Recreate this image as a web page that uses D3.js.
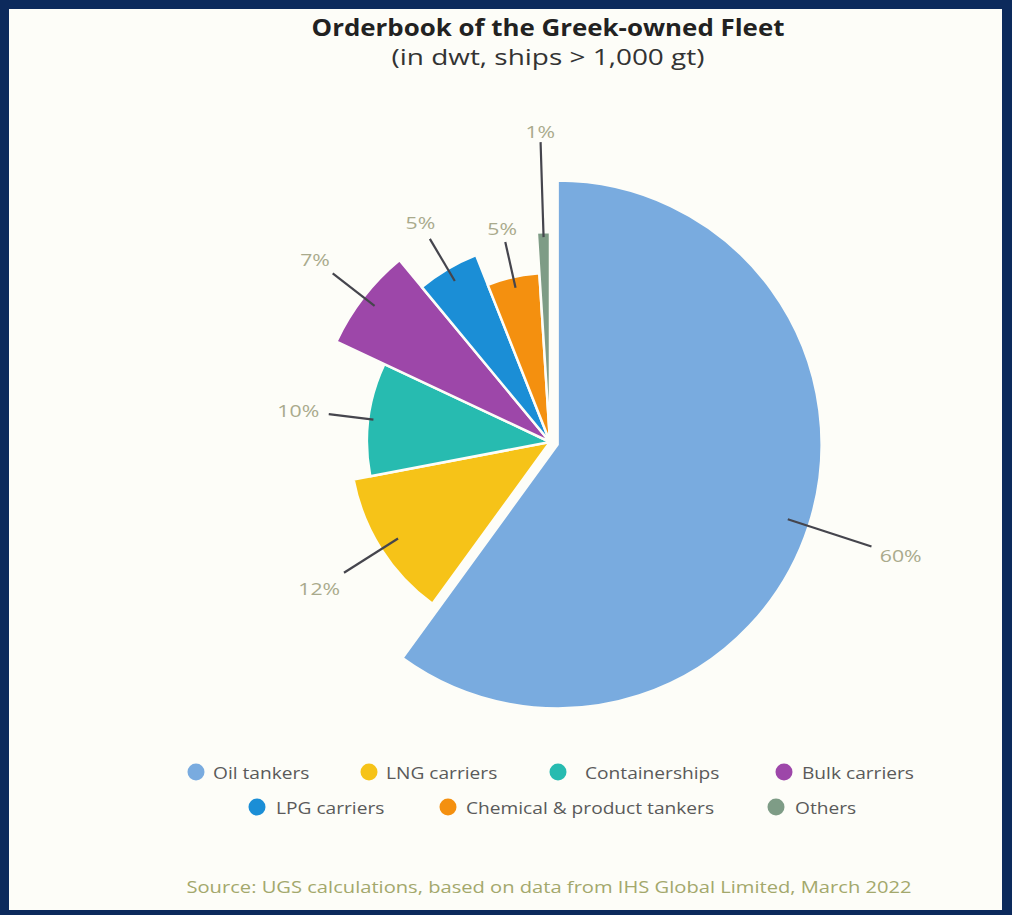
<!DOCTYPE html>
<html>
<head>
<meta charset="utf-8">
<script src="https://cdn.jsdelivr.net/npm/d3@7"></script>
<style>
  html, body { margin: 0; padding: 0; background: #0c2a5c; }
  svg { display: block; }
</style>
</head>
<body>
<svg id="chart" width="1012" height="915"></svg>
<script>
// ---- data ----
const categories = ["Oil tankers", "LNG carriers", "Containerships", "Bulk carriers",
                    "LPG carriers", "Chemical & product tankers", "Others"];
const shares = [60, 12, 10, 7, 5, 5, 1];
const titleText = "Orderbook of the Greek-owned Fleet";
const subtitleText = "(in dwt, ships > 1,000 gt)";
const sourceText = "Source: UGS calculations, based on data from IHS Global Limited, March 2022";
const legendRows = [
  ["Oil tankers", "LNG carriers", "Containerships", "Bulk carriers"],
  ["LPG carriers", "Chemical & product tankers", "Others"]
];

// ---- styling / layout ----
const W = 1012, H = 915;
const palette = ["#79abdf", "#f6c318", "#27bbb0", "#9d47a9", "#1b8ed6", "#f4900f", "#7e9c86"];
const sliceRadius = [264, 200, 183, 236, 201, 169, 210];   // each slice has its own depth
const sliceOffset = [8, 0, 0, 0, 0, 0, 0];                // oil tankers pulled out slightly
const leaderIn  = [242, 180, 178, 222, 187, 158, 205];
const leaderOut = [330, 244, 223, 275, 236, 205, 300];
const cx = 550, cy = 442;
const FONT = "'Open Sans', 'DejaVu Sans', sans-serif";

const svg = d3.select("#chart");

// widen a text element horizontally by a factor (the house typeface is a wide geometric sans)
function widen(sel, k) {
  sel.each(function() {
    const w = this.getComputedTextLength();
    d3.select(this).attr("textLength", w * k).attr("lengthAdjust", "spacingAndGlyphs");
  });
  return sel;
}

// framed panel
svg.append("rect").attr("x", 0).attr("y", 0).attr("width", W).attr("height", H).attr("fill", "#0c2a5c");
svg.append("rect").attr("x", 9).attr("y", 9).attr("width", 993).attr("height", 901).attr("fill", "#fdfdf8");

// titles
widen(svg.append("text").attr("x", 548).attr("y", 36).attr("text-anchor", "middle")
  .attr("font-family", FONT).attr("font-weight", 700).attr("font-size", 22.5)
  .attr("fill", "#222").text(titleText), 1.15);
widen(svg.append("text").attr("x", 548).attr("y", 65).attr("text-anchor", "middle")
  .attr("font-family", FONT).attr("font-size", 21)
  .attr("fill", "#333").text(subtitleText), 1.33);

// pie
const color = d3.scaleOrdinal().domain(categories).range(palette);
const pieData = categories.map((c, i) => ({ name: c, value: shares[i], idx: i }));
const pie = d3.pie().sort(null).value(d => d.value).startAngle(0).endAngle(2 * Math.PI);
const arcs = pie(pieData);

const polar = (r, a) => [r * Math.sin(a), -r * Math.cos(a)];

const g = svg.append("g").attr("transform", `translate(${cx},${cy})`);

const slices = g.selectAll("g.slice").data(arcs).join("g").attr("class", "slice")
  .attr("transform", d => {
    const mid = (d.startAngle + d.endAngle) / 2;
    const [dx, dy] = polar(sliceOffset[d.data.idx], mid);
    return `translate(${dx},${dy})`;
  });

slices.append("path")
  .attr("d", d => d3.arc().innerRadius(0).outerRadius(sliceRadius[d.data.idx])(d))
  .attr("fill", d => color(d.data.name))
  .attr("stroke", "#fdfdf8").attr("stroke-width", 2.5).attr("stroke-linejoin", "round");

// leader lines and percentage labels
const labelSize = 17;
slices.each(function(d) {
  const i = d.data.idx;
  const mid = (d.startAngle + d.endAngle) / 2;
  const p0 = polar(leaderIn[i], mid);
  const p1 = polar(leaderOut[i], mid);
  const sel = d3.select(this);
  sel.append("line")
    .attr("x1", p0[0]).attr("y1", p0[1]).attr("x2", p1[0]).attr("y2", p1[1])
    .attr("stroke", "#45454d").attr("stroke-width", 2.2);
  const label = d3.format(".0f")(d.data.value) + "%";
  const t = sel.append("text")
    .attr("font-family", FONT).attr("font-size", labelSize)
    .attr("fill", "#a9aa8c").attr("text-anchor", "middle")
    .attr("dominant-baseline", "central").text(label);
  widen(t, 1.25);
  const hw = t.node().getComputedTextLength() * 1.25 / 2, hh = labelSize * 0.36;
  const pad = hw * Math.abs(Math.sin(mid)) + hh * Math.abs(Math.cos(mid)) + 4;
  const pl = polar(leaderOut[i] + pad, mid);
  t.attr("x", pl[0]).attr("y", pl[1]);
});

// legend
const legendX = [[196, 369, 558, 784], [257, 448, 776]];
const legendTextGap = [[17, 17, 27, 18], [19, 18, 19]];
const legendY = [772, 807];
legendRows.forEach((row, r) => {
  row.forEach((name, k) => {
    const lg = svg.append("g").attr("transform", `translate(${legendX[r][k]},${legendY[r]})`);
    lg.append("circle").attr("r", 8.5).attr("fill", color(name));
    widen(lg.append("text").attr("x", legendTextGap[r][k]).attr("y", 0)
      .attr("dominant-baseline", "central")
      .attr("font-family", FONT).attr("font-size", 16.5)
      .attr("fill", "#5a5a5a").text(name), 1.16);
  });
});

// source note
widen(svg.append("text").attr("x", 549).attr("y", 886).attr("text-anchor", "middle")
  .attr("dominant-baseline", "central")
  .attr("font-family", FONT).attr("font-size", 16.5)
  .attr("fill", "#a3a86c").text(sourceText), 1.22);
</script>
</body>
</html>
